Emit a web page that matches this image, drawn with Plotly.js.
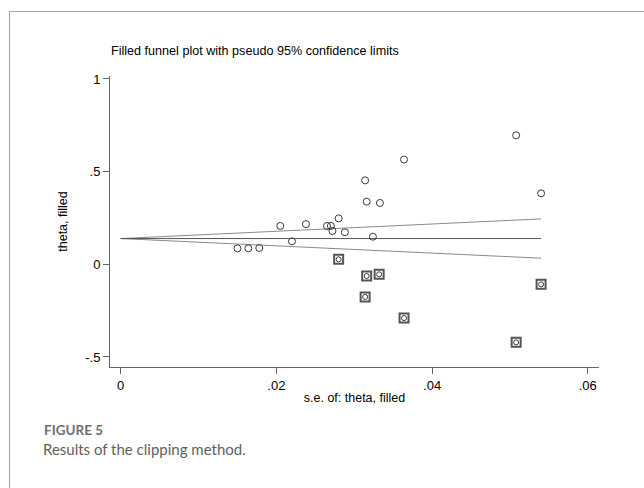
<!DOCTYPE html>
<html>
<head>
<meta charset="utf-8">
<script src="https://cdn.plot.ly/plotly-3.0.1.min.js"></script>
<style>
  html, body { margin: 0; padding: 0; background: #fff; overflow: hidden; }
  #chart { width: 644px; height: 488px; position: absolute; left: 0; top: 0; }
  #frame { position: absolute; left: 9px; top: 11px; width: 700px; height: 600px;
           border-left: 1px solid #a3a3a3; border-top: 1px solid #a3a3a3; pointer-events: none; }
</style>
</head>
<body>
<div id="chart"></div>
<div id="frame"></div>
<script>
// Observed studies (standard error, effect)
const obsSE    = [0.0150, 0.0164, 0.0178, 0.0205, 0.0220, 0.0238, 0.0265, 0.0270, 0.0272, 0.0280, 0.0288, 0.0314, 0.0316, 0.0333, 0.0324, 0.0364, 0.0508, 0.0540];
const obsTheta = [0.086, 0.086, 0.088, 0.207, 0.124, 0.217, 0.207, 0.207, 0.180, 0.248, 0.173, 0.453, 0.338, 0.331, 0.149, 0.565, 0.696, 0.383];
// Filled (imputed) studies
const fillSE    = [0.0280, 0.0316, 0.0332, 0.0314, 0.0364, 0.0508, 0.0540];
const fillTheta = [0.027, -0.063, -0.054, -0.176, -0.290, -0.421, -0.108];
// Pseudo 95% confidence limits and pooled estimate
const limitSE    = [0, 0.054];
const upperLimit = [0.139, 0.245];
const lowerLimit = [0.139, 0.033];
const pooled     = [0.139, 0.139];
// Tick labels
const xTickVals = [0, 0.02, 0.04, 0.06];
const xTickText = ['0', '.02', '.04', '.06'];
const yTickVals = [-0.5, 0, 0.5, 1];
const yTickText = ['-.5', '0', '.5', '1'];

const traces = [
  {x: limitSE, y: upperLimit, mode: 'lines', line: {color: '#8a8a8a', width: 1}, hoverinfo: 'skip'},
  {x: limitSE, y: lowerLimit, mode: 'lines', line: {color: '#8a8a8a', width: 1}, hoverinfo: 'skip'},
  {x: limitSE, y: pooled, mode: 'lines', line: {color: '#555555', width: 1}, hoverinfo: 'skip'},
  {x: obsSE, y: obsTheta, mode: 'markers',
   marker: {symbol: 'circle-open', size: 7, color: '#3a3a3a', line: {width: 1, color: '#3a3a3a'}}},
  {x: fillSE, y: fillTheta, mode: 'markers',
   marker: {symbol: 'square-open', size: 9, color: '#555555', line: {width: 2, color: '#555555'}}},
  {x: fillSE, y: fillTheta, mode: 'markers',
   marker: {symbol: 'circle-open', size: 5, color: '#3a3a3a', line: {width: 1, color: '#3a3a3a'}}}
];

const axisFont = {family: 'Liberation Sans, Arial, sans-serif', size: 13, color: '#000'};
const titleFont = {family: 'Liberation Sans, Arial, sans-serif', size: 12.5, color: '#000'};

const layout = {
  width: 644, height: 488,
  margin: {l: 110, r: 45, t: 76, b: 121},
  paper_bgcolor: '#fff', plot_bgcolor: '#fff',
  showlegend: false,
  xaxis: {
    range: [-0.00137, 0.06144], showgrid: false, zeroline: false,
    showline: true, linecolor: '#666', linewidth: 1,
    ticks: 'outside', ticklen: 6, tickcolor: '#666',
    tickvals: xTickVals, ticktext: xTickText, tickfont: axisFont,
    title: {text: 's.e. of: theta, filled', font: titleFont, standoff: 1}
  },
  yaxis: {
    range: [-0.554, 1.016], showgrid: false, zeroline: false,
    showline: true, linecolor: '#666', linewidth: 1,
    ticks: 'outside', ticklen: 6, tickcolor: '#666',
    tickvals: yTickVals, ticktext: yTickText, tickfont: axisFont,
    title: {text: 'theta, filled', font: titleFont, standoff: 14}
  },
  annotations: [
    {text: 'Filled funnel plot with pseudo 95% confidence limits', xref: 'paper', yref: 'paper',
     x: -0.002, y: 1.087, xanchor: 'left', yanchor: 'middle', showarrow: false,
     font: {family: 'Liberation Sans, Arial, sans-serif', size: 12.6, color: '#000'}},
    {text: '<b>FIGURE 5</b>', xref: 'paper', yref: 'paper',
     x: -0.139, y: -0.218, xanchor: 'left', yanchor: 'middle', showarrow: false,
     font: {family: 'Lato, Open Sans, sans-serif', size: 13.5, color: '#6e6e6e'}},
    {text: 'Results of the clipping method.', xref: 'paper', yref: 'paper',
     x: -0.141, y: -0.282, xanchor: 'left', yanchor: 'middle', showarrow: false,
     font: {family: 'Lato, Open Sans, sans-serif', size: 15, color: '#5f5f5f'}}
  ]
};

Plotly.newPlot('chart', traces, layout, {displayModeBar: false, staticPlot: true});
</script>
</body>
</html>
